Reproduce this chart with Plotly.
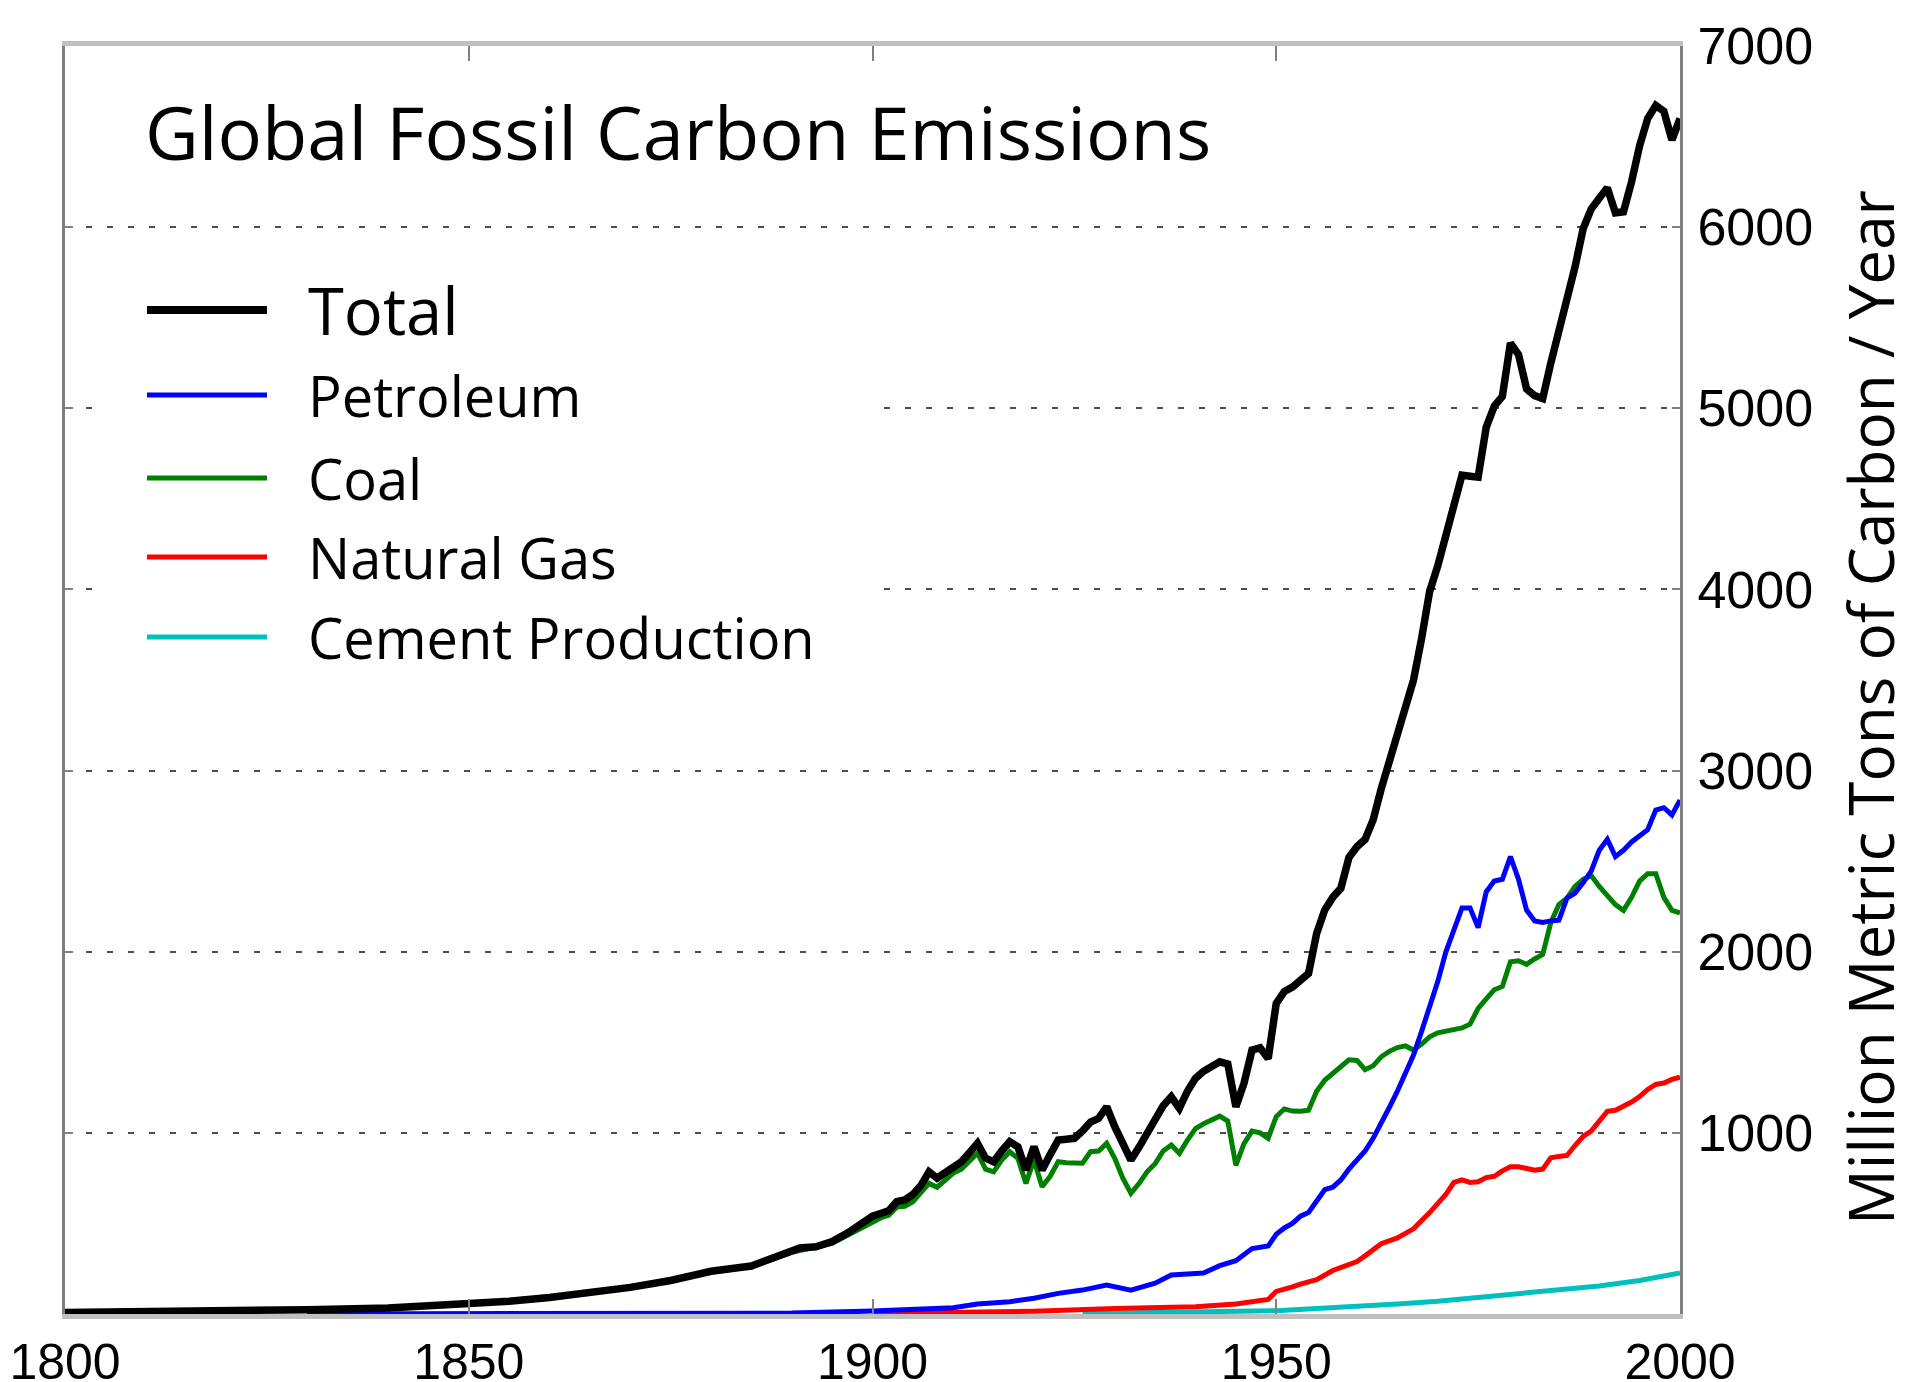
import plotly.graph_objects as go

# ---------------- data (million metric tons of carbon / year) ----------------
total_years = [1800, 1810, 1820, 1830, 1840, 1850, 1855, 1860, 1865, 1870, 1875, 1880, 1885, 1890,
               1891, 1893, 1895, 1897, 1898, 1899,
               1900, 1901, 1902, 1903, 1904, 1905, 1906, 1907, 1908, 1909,
               1910, 1911, 1912, 1913, 1914, 1915, 1916, 1917, 1918, 1919,
               1920, 1921, 1922, 1923, 1924, 1925, 1926, 1927, 1928, 1929,
               1930, 1931, 1932, 1933, 1934, 1935, 1936, 1937, 1938, 1939,
               1940, 1941, 1942, 1943, 1944, 1945, 1946, 1947, 1948, 1949,
               1950, 1951, 1952, 1953, 1954, 1955, 1956, 1957, 1958, 1959,
               1960, 1961, 1962, 1963, 1964, 1965, 1966, 1967, 1968, 1969,
               1970, 1971, 1972, 1973, 1974, 1975, 1976, 1977, 1978, 1979,
               1980, 1981, 1982, 1983, 1984, 1985, 1986, 1987, 1988, 1989,
               1990, 1991, 1992, 1993, 1994, 1995, 1996, 1997, 1998, 1999, 2000]
total_values = [8, 10, 14, 24, 33, 54, 70, 91, 115, 147, 185, 236, 265, 350,
                364, 371, 400, 450, 482, 515,
                540, 555, 570, 620, 630, 660, 710, 785, 750, 780,
                815, 840, 890, 942, 860, 840, 900, 951, 923, 795,
                923, 795, 880, 960, 965, 970, 1010, 1060, 1080, 1144,
                1034, 930, 850, 920, 1000, 1060, 1150, 1199, 1135, 1230,
                1301, 1340, 1370, 1392, 1380, 1144, 1273, 1457, 1470, 1410,
                1715, 1780, 1805, 1843, 1880, 2100, 2230, 2300, 2350, 2520,
                2580, 2620, 2728, 2900, 3050, 3200, 3380, 3500, 3730, 3990,
                4130, 4300, 4480, 4631, 4625, 4620, 4895, 5012, 5065, 5360,
                5297, 5107, 5070, 5054, 5250, 5420, 5600, 5780, 5990, 6100,
                6160, 6217, 6079, 6085, 6250, 6450, 6600, 6672, 6640, 6481, 6600]

coal_years = [1800, 1810, 1820, 1830, 1840, 1850, 1860, 1870, 1880, 1885, 1890, 1895,
              1900, 1901, 1902, 1903, 1904, 1905, 1906, 1907, 1908, 1909,
              1910, 1911, 1912, 1913, 1914, 1915, 1916, 1917, 1918, 1919,
              1920, 1921, 1922, 1923, 1924, 1925, 1926, 1927, 1928, 1929,
              1930, 1931, 1932, 1933, 1934, 1935, 1936, 1937, 1938, 1939,
              1940, 1941, 1942, 1943, 1944, 1945, 1946, 1947, 1948, 1949,
              1950, 1951, 1952, 1953, 1954, 1955, 1956, 1957, 1958, 1959,
              1960, 1961, 1962, 1963, 1964, 1965, 1966, 1967, 1968, 1969,
              1970, 1971, 1972, 1973, 1974, 1975, 1976, 1977, 1978, 1979,
              1980, 1981, 1982, 1983, 1984, 1985, 1986, 1987, 1988, 1989,
              1990, 1991, 1992, 1993, 1994, 1995, 1996, 1997, 1998, 1999, 2000]
coal_values = [8, 10, 14, 24, 33, 54, 91, 146, 230, 262, 340, 390,
               510, 530, 545, 590, 595, 620, 670, 721, 700, 740,
               778, 800, 841, 888, 800, 785, 850, 896, 860, 721,
               850, 703, 760, 841, 835, 835, 832, 896, 900, 942,
               860, 750, 666, 720, 785, 830, 900, 933, 887, 960,
               1024, 1050, 1070, 1092, 1065, 821, 940, 1010, 1000, 970,
               1090, 1132, 1120, 1119, 1125, 1230, 1290, 1330, 1370, 1403,
               1400, 1349, 1370, 1420, 1450, 1471, 1480, 1457, 1490, 1530,
               1552, 1560, 1570, 1579, 1600, 1687, 1740, 1790, 1808, 1944,
               1950, 1930, 1960, 1985, 2161, 2260, 2296, 2360, 2400, 2420,
               2360, 2310, 2260, 2228, 2300, 2390, 2431, 2431, 2300, 2228, 2215]

petroleum_years = [1830, 1870, 1880, 1890, 1900, 1905, 1910, 1913, 1917, 1920, 1923, 1926, 1929,
                   1932, 1935, 1937, 1940, 1941, 1943, 1945, 1947, 1949,
                   1950, 1951, 1952, 1953, 1954, 1955, 1956, 1957, 1958, 1959,
                   1960, 1961, 1962, 1963, 1964, 1965, 1966, 1967, 1968, 1969,
                   1970, 1971, 1972, 1973, 1974, 1975, 1976, 1977, 1978, 1979,
                   1980, 1981, 1982, 1983, 1984, 1985, 1986, 1987, 1988, 1989,
                   1990, 1991, 1992, 1993, 1994, 1995, 1996, 1997, 1998, 1999, 2000]
petroleum_values = [0, 1, 3, 5, 16, 24, 35, 55, 68, 87, 114, 132, 160,
                    132, 170, 215, 225, 226, 267, 294, 361, 375,
                    440, 475, 500, 540, 560, 620, 686, 700, 740, 800,
                    850, 900, 970, 1050, 1140, 1230, 1330, 1430, 1560, 1700,
                    1835, 1998, 2120, 2242, 2242, 2133, 2330, 2390, 2400, 2525,
                    2400, 2230, 2170, 2161, 2170, 2174, 2296, 2323, 2380, 2445,
                    2560, 2620, 2525, 2560, 2606, 2640, 2674, 2782, 2795, 2755, 2837]

gas_years = [1900, 1910, 1920, 1930, 1940, 1945, 1948, 1949,
             1950, 1951, 1952, 1953, 1955, 1957, 1960, 1961, 1963, 1965, 1967, 1969,
             1970, 1971, 1972, 1973, 1974, 1975, 1976, 1977, 1978, 1979,
             1980, 1981, 1982, 1983, 1984, 1985, 1986, 1987, 1988, 1989,
             1990, 1991, 1992, 1993, 1994, 1995, 1996, 1997, 1998, 1999, 2000]
gas_values = [3, 8, 15, 30, 40, 55, 75, 80,
              125, 135, 150, 165, 190, 240, 290, 321, 388, 420, 470, 560,
              610, 660, 726, 740, 726, 730, 753, 760, 790, 813,
              813, 805, 794, 800, 862, 870, 875, 930, 980, 1010,
              1060, 1119, 1125, 1146, 1170, 1200, 1240, 1268, 1275, 1295, 1308]

cement_years = [1926, 1930, 1940, 1950, 1955, 1960, 1965, 1970, 1975, 1980, 1985, 1990, 1995, 2000]
cement_values = [3, 5, 10, 18, 30, 40, 55, 70, 90, 110, 130, 155, 185, 226]

x_tick_vals = [1800, 1850, 1900, 1950, 2000]
x_tick_text = ["1800", "1850", "1900", "1950", "2000"]
y_tick_vals = [1000, 2000, 3000, 4000, 5000, 6000, 7000]
y_tick_text = ["1000", "2000", "3000", "4000", "5000", "6000", "7000"]

legend_names = ["Total", "Petroleum", "Coal", "Natural Gas", "Cement Production"]
legend_colors = ["#000000", "#0000ff", "#008000", "#ff0000", "#00bfbf"]

chart_title = "Global Fossil Carbon Emissions"
y_title = "Million Metric Tons of Carbon / Year"

# ---------------- layout geometry ----------------
# The page body has an 8px default margin, so the figure's margins are
# shifted so that the plot area lands on the intended page pixels.
OFF = 8
W, H = 1920, 1382
PL, PR, PT, PB = 65, 1680, 46, 1314          # plot area in page pixels
L, T = PL - OFF, PT - OFF
R, B = W - (PR - OFF), H - (PB - OFF)
PW, PH = PR - PL, PB - PT
X_RANGE = [1800, 2000]
Y_RANGE = [0, 7000]


def px(x):
    return (x - PL) / PW


def py(y):
    return (PB - y) / PH


def dx(x):
    return X_RANGE[0] + px(x) * (X_RANGE[1] - X_RANGE[0])


def dy(y):
    return Y_RANGE[0] + py(y) * (Y_RANGE[1] - Y_RANGE[0])


fig = go.Figure()

series = [
    ("Cement Production", cement_years, cement_values, "#00bfbf", 5),
    ("Natural Gas", gas_years, gas_values, "#ff0000", 5),
    ("Coal", coal_years, coal_values, "#008000", 5),
    ("Petroleum", petroleum_years, petroleum_values, "#0000ff", 5),
    ("Total", total_years, total_values, "#000000", 7.5),
]
for name, xs, ys, col, w in series:
    fig.add_trace(go.Scatter(x=xs, y=ys, name=name, mode="lines",
                             line=dict(color=col, width=w), showlegend=False))

x_tick_font = dict(family="Liberation Sans, Arial, sans-serif", size=50, color="#000000")
y_tick_font = dict(family="Liberation Sans, Arial, sans-serif", size=52, color="#000000")
text_font = "Open Sans, Noto Sans, sans-serif"

fig.update_layout(
    width=W, height=H,
    margin=dict(l=L, r=R, t=T, b=B, autoexpand=False),
    paper_bgcolor="#ffffff", plot_bgcolor="#ffffff",
    showlegend=False,
    xaxis=dict(range=X_RANGE, tickvals=x_tick_vals, ticktext=x_tick_text,
               showgrid=False, zeroline=False, automargin=False,
               showline=True, linecolor="#c0c0c0", linewidth=5, mirror="ticks",
               ticks="inside", ticklen=15, tickwidth=2, tickcolor="#808080",
               tickfont=x_tick_font, ticklabelstandoff=0, ticklabeloverflow="allow"),
    yaxis=dict(range=Y_RANGE, tickvals=y_tick_vals, ticktext=y_tick_text,
               side="right", showgrid=True, gridcolor="#4d4d4d", gridwidth=2,
               griddash="6px,15px", zeroline=False, automargin=False,
               showline=True, linecolor="#808080", linewidth=3, mirror="ticks",
               ticks="inside", ticklen=8, tickwidth=2, tickcolor="#808080",
               tickfont=y_tick_font, ticklabelstandoff=4, ticklabeloverflow="allow"),
)

shapes = []
annotations = []

# white legend panel hiding the grid lines (between grid and traces)
shapes.append(dict(type="rect", xref="x", yref="y",
                   x0=dx(105), x1=dx(882), y0=dy(690), y1=dy(245),
                   fillcolor="#ffffff", line=dict(width=0), layer="between"))

rows_y = [310, 395, 478, 557, 637]
for i, (name, col) in enumerate(zip(legend_names, legend_colors)):
    shapes.append(dict(type="line", xref="paper", yref="paper",
                       x0=px(147), x1=px(267), y0=py(rows_y[i]), y1=py(rows_y[i]),
                       line=dict(color=col, width=8 if i == 0 else 5), layer="above"))
    annotations.append(dict(text=name, xref="paper", yref="paper",
                            x=px(306), y=py(rows_y[i]), xanchor="left", yanchor="middle",
                            showarrow=False,
                            font=dict(family=text_font, size=65 if i == 0 else 56, color="#000000")))

annotations.append(dict(text=chart_title, xref="paper", yref="paper",
                        x=px(143), y=py(131), xanchor="left", yanchor="middle",
                        showarrow=False, font=dict(family=text_font, size=74, color="#000000")))

annotations.append(dict(text=y_title, xref="paper", yref="paper",
                        x=px(1870), y=py(708), xanchor="center", yanchor="middle",
                        textangle=-90, showarrow=False,
                        font=dict(family=text_font, size=62, color="#000000")))

fig.update_layout(shapes=shapes, annotations=annotations)

fig.write_html("out.html")
